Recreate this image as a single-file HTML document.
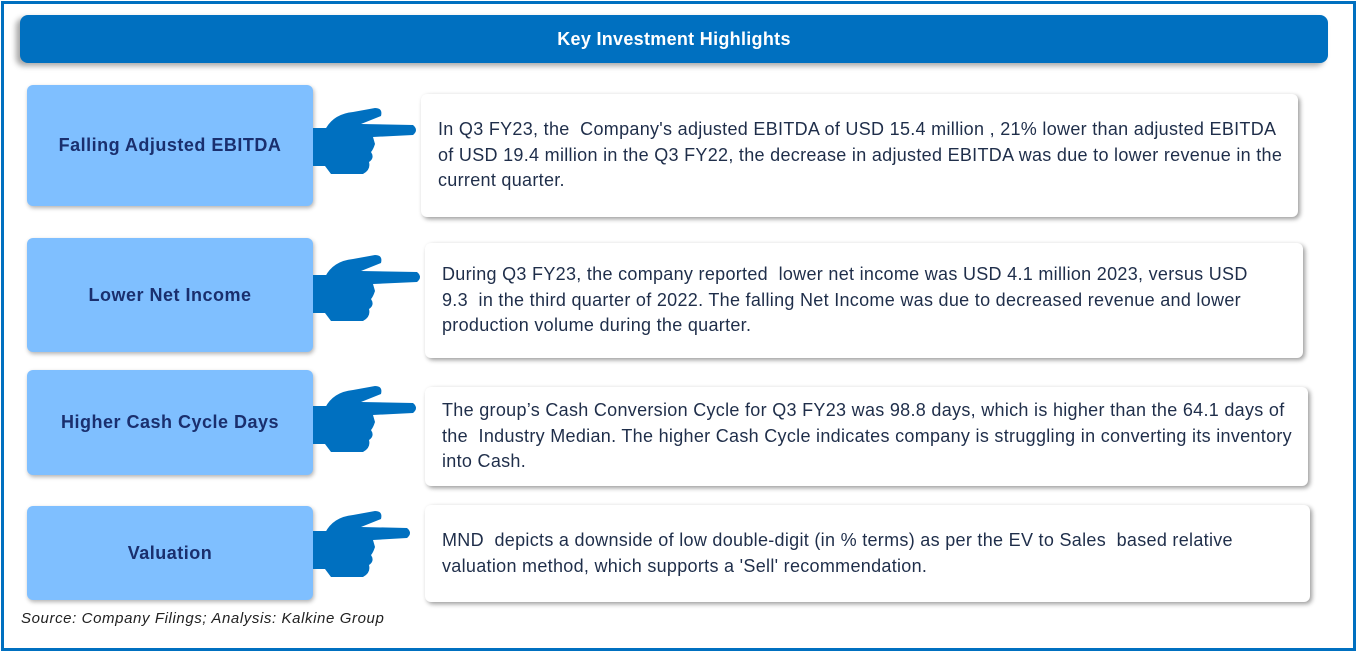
<!DOCTYPE html>
<html><head><meta charset="utf-8"><style>
*{margin:0;padding:0;box-sizing:border-box}
body{width:1358px;height:653px;background:#fff;position:relative;overflow:hidden;font-family:"Liberation Sans",sans-serif}
.frame{position:absolute;left:1px;top:1px;width:1355px;height:650px;border:3px solid #0070C0}
.hdr{position:absolute;left:20px;top:15px;width:1308px;height:48px;background:#0070C0;border-radius:8px;box-shadow:-4px 3px 6px rgba(0,0,0,.35);color:#fff;font-weight:bold;font-size:18px;letter-spacing:.3px;text-align:center;line-height:48px}
.lb{position:absolute;left:27px;width:286px;background:#7FBFFF;border-radius:6px;box-shadow:1px 2px 4px rgba(0,0,0,.3);color:#1A2F6E;font-weight:bold;font-size:18px;letter-spacing:.5px;display:flex;align-items:center;justify-content:center}
.rb{position:absolute;background:#fff;border-radius:6px;box-shadow:2px 2px 5px rgba(0,0,0,.4);color:#1F2E4A;font-size:18px;letter-spacing:.3px;line-height:25.5px;padding-left:17px;display:flex;flex-direction:column;justify-content:center;white-space:nowrap}
.hand{position:absolute;left:313px;width:110px;height:80px}
.src{position:absolute;left:21px;top:610px;font-style:italic;font-size:15px;letter-spacing:.6px;color:#222}
</style></head><body>
<div class="frame"></div>
<div class="hdr">Key Investment Highlights</div>

<div class="lb" style="top:85px;height:121px">Falling Adjusted EBITDA</div>
<div class="lb" style="top:238px;height:114px">Lower Net Income</div>
<div class="lb" style="top:370px;height:105px">Higher Cash Cycle Days</div>
<div class="lb" style="top:506px;height:94px">Valuation</div>

<svg class="hand" style="top:104px" viewBox="0 0 110 80"><g fill="#0070C0"><rect x="0" y="24" width="14" height="38"/><path d="M12 26 Q20 10 40 8 L62 4 Q70 4 68 12 L48 20 L100 21 Q106 26 100 31 L60 33 L62 40 Q60 46 58 48 Q62 54 56 58 Q58 66 50 70 L18 70 L12 62Z"/></g></svg>
<svg class="hand" style="top:251px" viewBox="0 0 110 80"><g fill="#0070C0"><rect x="0" y="24" width="14" height="38"/><path d="M12 26 Q20 10 40 8 L62 4 Q70 4 68 12 L48 20 L104 21 Q110 26 104 31 L60 33 L62 40 Q60 46 58 48 Q62 54 56 58 Q58 66 50 70 L18 70 L12 62Z"/></g></svg>
<svg class="hand" style="top:382px" viewBox="0 0 110 80"><g fill="#0070C0"><rect x="0" y="24" width="14" height="38"/><path d="M12 26 Q20 10 40 8 L62 4 Q70 4 68 12 L48 20 L100 21 Q106 26 100 31 L60 33 L62 40 Q60 46 58 48 Q62 54 56 58 Q58 66 50 70 L18 70 L12 62Z"/></g></svg>
<svg class="hand" style="top:507px" viewBox="0 0 110 80"><g fill="#0070C0"><rect x="0" y="24" width="14" height="38"/><path d="M12 26 Q20 10 40 8 L62 4 Q70 4 68 12 L48 20 L94 21 Q100 26 94 31 L60 33 L62 40 Q60 46 58 48 Q62 54 56 58 Q58 66 50 70 L18 70 L12 62Z"/></g></svg>

<div class="rb" style="left:421px;top:94px;width:877px;height:123px">
<div>In Q3 FY23, the&nbsp; Company's adjusted EBITDA of USD 15.4 million , 21% lower than adjusted EBITDA</div>
<div>of USD 19.4 million in the Q3 FY22, the decrease in adjusted EBITDA was due to lower revenue in the</div>
<div>current quarter.</div></div>
<div class="rb" style="left:425px;top:243px;width:878px;height:115px">
<div>During Q3 FY23, the company reported&nbsp; lower net income was USD 4.1 million 2023, versus USD</div>
<div>9.3&nbsp; in the third quarter of 2022. The falling Net Income was due to decreased revenue and lower</div>
<div>production volume during the quarter.</div></div>
<div class="rb" style="left:425px;top:387px;width:883px;height:99px">
<div>The group’s Cash Conversion Cycle for Q3 FY23 was 98.8 days, which is higher than the 64.1 days of</div>
<div>the&nbsp; Industry Median. The higher Cash Cycle indicates company is struggling in converting its inventory</div>
<div>into Cash.</div></div>
<div class="rb" style="left:425px;top:505px;width:885px;height:97px">
<div>MND&nbsp; depicts a downside of low double-digit (in % terms) as per the EV to Sales&nbsp; based relative</div>
<div>valuation method, which supports a 'Sell' recommendation.</div></div>

<div class="src">Source: Company Filings; Analysis: Kalkine Group</div>
</body></html>
